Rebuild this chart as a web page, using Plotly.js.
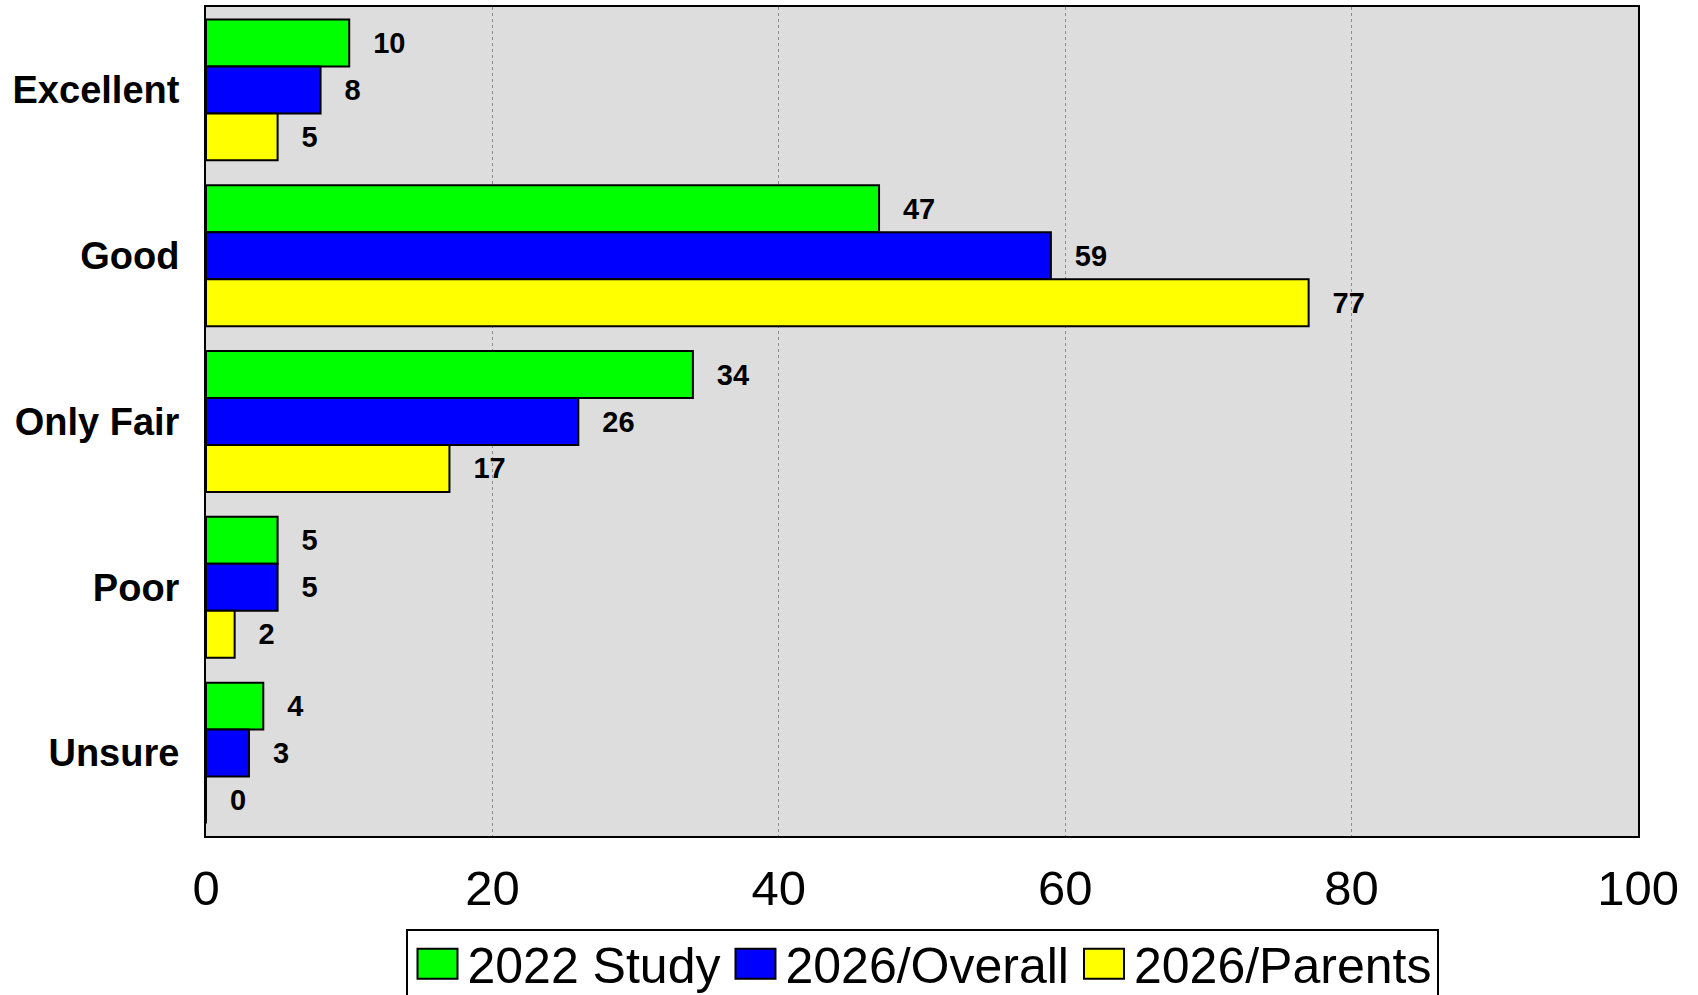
<!DOCTYPE html>
<html>
<head>
<meta charset="utf-8">
<script src="https://cdn.plot.ly/plotly-3.0.1.min.js"></script>
<style>html,body{margin:0;padding:0;background:#fff;}#chart{width:1698px;height:995px;}</style>
</head>
<body>
<div id="chart"></div>
<script>
var categories = ["Excellent", "Good", "Only Fair", "Poor", "Unsure"];
var seriesNames = ["2022 Study", "2026/Overall", "2026/Parents"];
var study2022 = [10, 47, 34, 5, 4];
var overall2026 = [8, 59, 26, 5, 3];
var parents2026 = [5, 77, 17, 2, 0];
var seriesColors = ["#00FF00", "#0000FF", "#FFFF00"];
var xTicks = [0, 20, 40, 60, 80, 100];

var seriesValues = [study2022, overall2026, parents2026];
var traces = seriesValues.map(function (vals, i) {
  return {
    type: "bar",
    orientation: "h",
    name: seriesNames[i],
    x: vals,
    y: categories,
    marker: { color: seriesColors[i], line: { color: "#000000", width: 2 } },
    texttemplate: "\u00a0\u00a0\u2006%{x}",
    textposition: "outside",
    constraintext: "none",
    cliponaxis: false,
    textfont: { family: "Liberation Sans, Arial, sans-serif", size: 29, color: "#000", weight: "bold" },
    hoverinfo: "x+name"
  };
});

var layout = {
  width: 1698,
  height: 995,
  margin: { l: 206, r: 60, t: 7, b: 159, pad: 0, autoexpand: false },
  paper_bgcolor: "#FFFFFF",
  plot_bgcolor: "#DDDDDD",
  barmode: "group",
  bargap: 0.15,
  bargroupgap: 0,
  showlegend: true,
  font: { family: "Liberation Sans, Arial, sans-serif", color: "#000" },
  xaxis: {
    range: [0, 100],
    tickvals: xTicks,
    ticktext: xTicks.map(String),
    showgrid: true,
    gridcolor: "#8C8C8C",
    gridwidth: 1,
    griddash: "dot",
    zeroline: false,
    showline: true,
    linecolor: "#000",
    linewidth: 2,
    mirror: true,
    ticks: "",
    ticklabelstandoff: 8,
    tickfont: { family: "Liberation Sans, Arial, sans-serif", size: 49, color: "#000" },
    fixedrange: true
  },
  yaxis: {
    autorange: "reversed",
    showgrid: false,
    zeroline: false,
    showline: true,
    linecolor: "#000",
    linewidth: 2,
    mirror: true,
    ticks: "",
    ticklabelstandoff: 17,
    tickfont: { family: "Liberation Sans, Arial, sans-serif", size: 38, color: "#000", weight: "bold" },
    fixedrange: true
  },
  legend: {
    orientation: "h",
    x: 0.5,
    xanchor: "center",
    y: -0.112,
    yanchor: "top",
    bgcolor: "#FFFFFF",
    bordercolor: "#000",
    borderwidth: 2,
    font: { family: "Liberation Sans, Arial, sans-serif", size: 50, color: "#000" },
    itemwidth: 50,
    tracegroupgap: 0
  }
};

Plotly.newPlot("chart", traces, layout, { displayModeBar: false, staticPlot: true }).then(function (gd) {
  // enlarge legend swatches to match the boxed keys of the original
  gd.querySelectorAll(".legend .legendpoints path").forEach(function (p) {
    p.setAttribute("d", "M20,15H-20V-15H20Z");
  });
  // lift the legend entries slightly so the text sits like the original
  gd.querySelectorAll(".legend .traces").forEach(function (g) {
    var t = g.getAttribute("transform") || "";
    var m = /translate\(\s*([-\d.]+)[ ,]+([-\d.]+)\s*\)/.exec(t);
    if (m) {
      g.setAttribute("transform", "translate(" + m[1] + "," + (parseFloat(m[2]) - 6) + ")");
    }
  });
});
</script>
</body>
</html>
